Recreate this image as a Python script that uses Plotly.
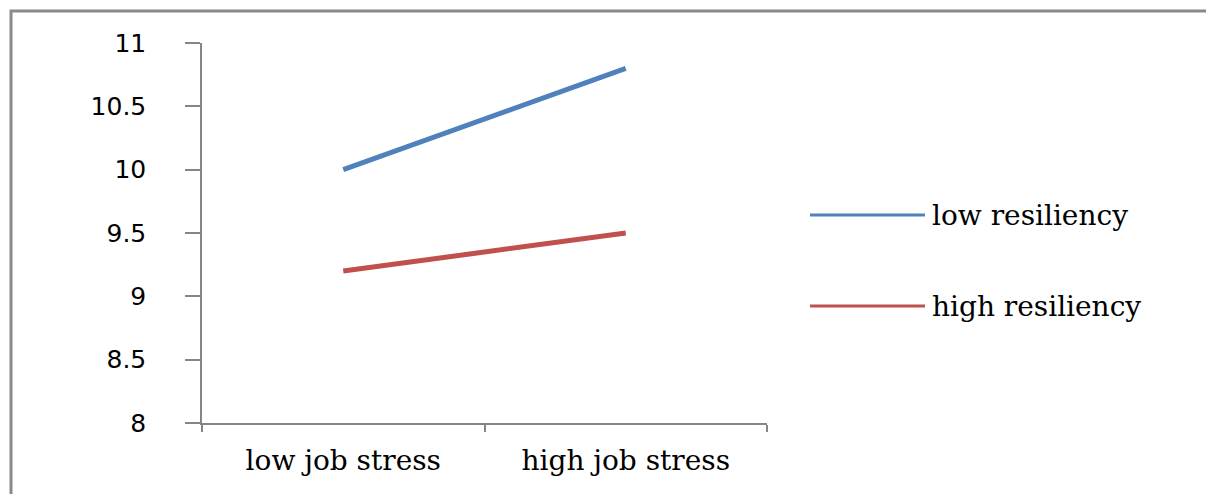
import plotly.graph_objects as go

categories = ["low job stress", "high job stress"]
series_names = ["low resiliency", "high resiliency"]
low_resiliency = [10.0, 10.8]
high_resiliency = [9.2, 9.5]
series_values = [low_resiliency, high_resiliency]
colors = ["#4F81BD", "#C0504D"]
y_ticks = [8, 8.5, 9, 9.5, 10, 10.5, 11]
y_tick_text = ["8", "8.5", "9", "9.5", "10", "10.5", "11"]

OFF = 8  # page body margin
W, H = 1214 - 2 * OFF, 502 - 2 * OFF
L, R, T, B = 202 - OFF, 767 - OFF, 43 - OFF, 423 - OFF  # plot area in figure pixels


def px_x(p):
    return (p - OFF - L) / (R - L)


def px_y(p):
    return (B - (p - OFF)) / (B - T)


fig = go.Figure()
for name, vals, col in zip(series_names, series_values, colors):
    fig.add_trace(go.Scatter(x=categories, y=vals, mode="lines", name=name,
                             line=dict(color=col, width=5), showlegend=False))

# custom legend with long line samples
leg_y = [215, 306]
shapes = []
annotations = []
for name, col, yy in zip(series_names, colors, leg_y):
    shapes.append(dict(type="line", xref="paper", yref="paper",
                       x0=px_x(810), x1=px_x(925), y0=px_y(yy), y1=px_y(yy),
                       line=dict(color=col, width=3)))
    annotations.append(dict(xref="paper", yref="paper", x=px_x(930), y=px_y(yy),
                            xanchor="left", yanchor="middle", text=name, showarrow=False,
                            font=dict(family="DejaVu Serif", size=28, color="black")))

# outer chart frame
shapes.append(dict(type="rect", xref="paper", yref="paper",
                   x0=px_x(11), x1=px_x(1211), y0=px_y(540), y1=px_y(11),
                   line=dict(color="#8a8a8a", width=3), fillcolor="rgba(0,0,0,0)", layer="below"))

fig.update_layout(
    width=W, height=H,
    margin=dict(l=L, r=W - R, t=T, b=H - B, pad=0),
    paper_bgcolor="white", plot_bgcolor="white",
    shapes=shapes, annotations=annotations,
    showlegend=False,
)
fig.update_xaxes(type="category", range=[-0.5, 1.5], showline=True, linecolor="#868686",
                 linewidth=1.5, ticks="outside", ticklen=7, tickcolor="#868686", tickwidth=1.5,
                 tickson="boundaries", showgrid=False, zeroline=False,
                 tickfont=dict(family="DejaVu Serif", size=28, color="black"),
                 ticklabelstandoff=12)
fig.update_yaxes(range=[8, 11], tickvals=y_ticks, ticktext=y_tick_text, showline=True,
                 linecolor="#868686", linewidth=1.5, ticks="outside", ticklen=15,
                 tickcolor="#868686", tickwidth=1.5, showgrid=False, zeroline=False,
                 tickfont=dict(family="DejaVu Sans", size=25, color="black"),
                 ticklabelstandoff=34)

fig.write_html("out.html")
